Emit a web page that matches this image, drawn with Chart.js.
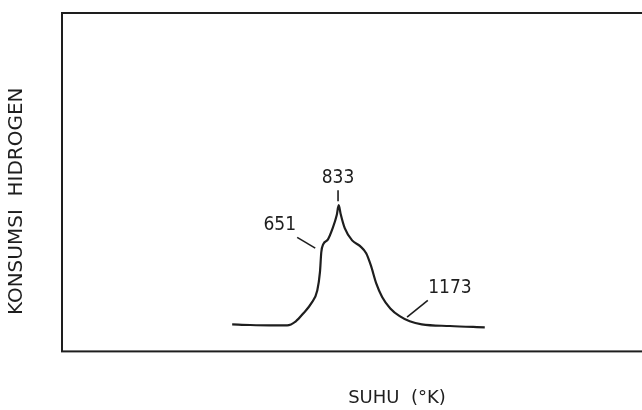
<!DOCTYPE html>
<html>
<head>
<meta charset="utf-8">
<script src="https://cdn.jsdelivr.net/npm/chart.js@4/dist/chart.umd.min.js"></script>
<style>
  html, body { margin: 0; padding: 0; background: #fff; overflow: hidden; }
  /* the scanned frame runs off the right edge, so the canvas is wider than the window */
  #wrap { width: 732px; height: 410px; }
</style>
</head>
<body>
<div id="wrap"><canvas id="chart"></canvas></div>
<script>
// hydrogen consumption trace (relative units)
const TRACE_X = [25.4, 28.1, 31.0, 33.6, 34.9, 36.0, 37.2, 38.1, 38.5, 38.7, 39.0, 39.7, 40.4, 41.0, 41.3,
                 41.6, 42.2, 43.3, 44.5, 45.4, 46.1, 46.9, 47.8, 49.0, 50.4, 51.9, 53.7, 57.9, 63.1];
const TRACE_Y = [8.0, 7.8, 7.7, 7.7, 8.9, 11.2, 14.2, 18.0, 23.4, 29.3, 31.7, 33.1, 36.4, 40.2, 43.2,
                 40.5, 36.4, 32.8, 31.1, 29.0, 25.4, 20.1, 16.0, 12.7, 10.4, 8.9, 8.0, 7.5, 7.1];

// temperature marks (K): label position and leader line ends
const MARK_TEXT  = ["651", "833", "1173"];
const MARK_LX    = [32.5, 41.2, 57.9];
const MARK_LY    = [37.3, 51.2, 18.6];
const LEADER_X1  = [35.1, 41.2, 54.6];
const LEADER_Y1  = [33.7, 47.6, 15.1];
const LEADER_X2  = [37.8, 41.2, 51.5];
const LEADER_Y2  = [30.5, 44.4, 10.1];

const INK = "#1e1e1e";

const boxAndMarks = {
    id: "boxAndMarks",
    afterDatasetsDraw(chart) {
        const { ctx, chartArea: a, scales: { x, y } } = chart;
        ctx.save();
        // frame
        ctx.strokeStyle = INK;
        ctx.lineWidth = 2;
        ctx.strokeRect(a.left, a.top, a.right - a.left, a.bottom - a.top);

        // leaders + labels
        ctx.lineWidth = 1.6;
        ctx.fillStyle = INK;
        ctx.font = "19px 'DejaVu Sans Condensed', 'DejaVu Sans', sans-serif";
        ctx.textAlign = "center";
        ctx.textBaseline = "middle";
        MARK_TEXT.forEach((t, i) => {
            ctx.beginPath();
            ctx.moveTo(x.getPixelForValue(LEADER_X1[i]), y.getPixelForValue(LEADER_Y1[i]));
            ctx.lineTo(x.getPixelForValue(LEADER_X2[i]), y.getPixelForValue(LEADER_Y2[i]));
            ctx.stroke();
            ctx.fillText(t, x.getPixelForValue(MARK_LX[i]), y.getPixelForValue(MARK_LY[i]));
        });
        ctx.restore();
    }
};

new Chart(document.getElementById("chart"), {
    type: "line",
    data: {
        datasets: [{
            data: TRACE_X.map((v, i) => ({ x: v, y: TRACE_Y[i] })),
            borderColor: INK,
            borderWidth: 2.2,
            pointRadius: 0,
            cubicInterpolationMode: "monotone",
            fill: false,
        }]
    },
    options: {
        responsive: true, maintainAspectRatio: false,
        animation: false,
        layout: { padding: { left: 0, right: 0, top: 13, bottom: 0 } },
        plugins: { legend: { display: false }, tooltip: { enabled: false } },
        scales: {
            x: {
                type: "linear", min: 0, max: 100,
                grid: { display: false, drawTicks: false },
                border: { display: false },
                ticks: { display: false },
                title: {
                    display: true, text: "SUHU  (°K)", color: INK,
                    font: { family: "'DejaVu Sans', sans-serif", size: 18 },
                    padding: { top: 36, bottom: 1 }
                }
            },
            y: {
                min: 0, max: 100,
                grid: { display: false, drawTicks: false },
                border: { display: false },
                ticks: { display: false },
                title: {
                    // trailing spaces nudge the label down, as in the scan
                    display: true, text: "KONSUMSI  HIDROGEN      ", color: INK,
                    font: { family: "'DejaVu Sans', sans-serif", size: 20 },
                    padding: { top: 5, bottom: 33 }
                }
            }
        }
    },
    plugins: [boxAndMarks]
});
</script>
</body>
</html>
